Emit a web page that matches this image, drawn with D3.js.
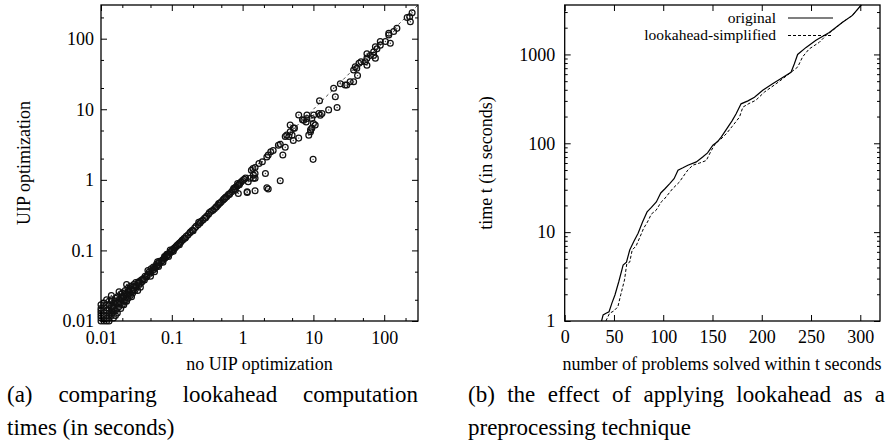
<!DOCTYPE html>
<html>
<head>
<meta charset="utf-8">
<script src="https://cdn.jsdelivr.net/npm/d3@7"></script>
<style>
  body { margin: 0; background: #fff; }
  svg, svg text { font-family: "Liberation Serif", "Times New Roman", Times, serif !important; }
  svg { display: block; }
</style>
</head>
<body>
<svg id="fig" width="886" height="441"></svg>
<script>
// ---------- data (a): lookahead time, no UIP opt (x) vs UIP opt (y), seconds ----------
const uipRuns = [
  // dense bottom-left part
  [0.010,0.010],[0.010,0.011],[0.011,0.010],[0.010,0.012],[0.011,0.011],[0.012,0.011],[0.010,0.013],[0.011,0.013],
  [0.012,0.012],[0.013,0.011],[0.010,0.015],[0.012,0.014],[0.013,0.013],[0.014,0.012],[0.011,0.016],[0.013,0.015],
  [0.014,0.014],[0.015,0.013],[0.012,0.017],[0.014,0.016],[0.015,0.015],[0.016,0.014],[0.013,0.019],[0.015,0.018],
  [0.016,0.017],[0.017,0.015],[0.014,0.020],[0.016,0.019],[0.017,0.018],[0.018,0.016],[0.016,0.021],[0.018,0.020],
  [0.019,0.018],[0.020,0.017],[0.017,0.022],[0.019,0.021],[0.020,0.020],[0.021,0.019],[0.019,0.024],[0.021,0.022],
  [0.022,0.021],[0.023,0.019],[0.020,0.025],[0.022,0.024],[0.023,0.023],[0.024,0.021],[0.022,0.027],[0.024,0.026],
  [0.025,0.024],[0.026,0.023],[0.024,0.029],[0.026,0.028],[0.027,0.026],[0.028,0.025],[0.026,0.031],[0.028,0.030],
  [0.029,0.028],[0.030,0.027],[0.029,0.033],[0.031,0.031],[0.032,0.030],[0.031,0.035],[0.033,0.034],[0.034,0.032],
  [0.035,0.036],[0.036,0.034],[0.037,0.038],[0.038,0.036],[0.040,0.040],[0.041,0.038],[0.042,0.043],[0.044,0.042],
  [0.011,0.018],[0.012,0.020],[0.013,0.010],[0.015,0.011],[0.017,0.013],[0.019,0.015],[0.021,0.017],[0.010,0.017],
  [0.014,0.023],[0.018,0.026],[0.023,0.033],[0.027,0.022],[0.033,0.027],[0.036,0.030],[0.012,0.010],[0.016,0.012],
  [0.010,0.014],[0.011,0.012],[0.013,0.017],[0.015,0.016],[0.018,0.018],[0.020,0.022],[0.022,0.019],[0.025,0.027],
  [0.028,0.028],[0.030,0.031],[0.034,0.036],[0.039,0.039],
  // 0.045 .. 0.12
  [0.045,0.044],[0.047,0.046],[0.048,0.050],[0.050,0.048],[0.052,0.051],[0.051,0.055],[0.054,0.053],[0.056,0.054],
  [0.055,0.058],[0.058,0.057],[0.060,0.059],[0.062,0.060],[0.061,0.064],[0.064,0.063],[0.066,0.064],[0.068,0.067],
  [0.067,0.070],[0.070,0.069],[0.072,0.070],[0.074,0.073],[0.076,0.075],[0.078,0.077],[0.080,0.078],[0.079,0.082],
  [0.082,0.081],[0.084,0.083],[0.086,0.084],[0.085,0.088],[0.088,0.087],[0.090,0.089],[0.092,0.090],[0.094,0.093],
  [0.096,0.095],[0.098,0.097],[0.100,0.098],[0.102,0.101],[0.104,0.104],[0.106,0.104],[0.108,0.107],[0.110,0.109],
  [0.112,0.110],[0.115,0.114],[0.118,0.117],[0.120,0.118],[0.050,0.043],[0.057,0.050],[0.065,0.059],[0.075,0.068],
  [0.090,0.082],[0.105,0.097],[0.046,0.052],[0.063,0.069],[0.095,0.101],
  // 0.12 .. 0.35
  [0.125,0.124],[0.130,0.128],[0.135,0.133],[0.140,0.139],[0.145,0.143],[0.150,0.149],[0.160,0.158],[0.170,0.167],
  [0.180,0.178],[0.185,0.184],[0.195,0.193],[0.210,0.207],[0.220,0.219],[0.235,0.231],[0.250,0.245],[0.260,0.258],
  [0.275,0.270],[0.290,0.285],[0.310,0.305],[0.330,0.325],[0.128,0.120],[0.155,0.150],[0.200,0.190],[0.240,0.250],
  [0.300,0.290],[0.340,0.345],
  // 0.35 .. 1
  [0.36,0.36],[0.38,0.37],[0.40,0.39],[0.43,0.42],[0.45,0.44],[0.48,0.47],[0.50,0.49],[0.53,0.52],[0.55,0.54],
  [0.58,0.57],[0.60,0.58],[0.63,0.62],[0.66,0.64],[0.70,0.68],[0.73,0.72],[0.77,0.75],[0.80,0.79],[0.84,0.82],
  [0.88,0.86],[0.92,0.90],[0.95,0.93],[0.56,0.55],[0.46,0.46],[0.42,0.41],[0.65,0.62],[0.75,0.76],[0.85,0.89],
  [0.90,0.85],
  // the ones that dropped below the line
  [0.79,0.71],[0.87,0.64],[1.16,0.66],[1.50,0.70],[2.30,0.74],[2.20,0.77],[3.40,0.97],[1.16,0.68],
  // 1 .. 4
  [1.00,0.98],[1.05,1.02],[1.10,1.06],[1.20,0.94],[1.28,1.05],[1.42,1.05],[1.50,1.05],[1.42,1.17],[1.50,1.23],
  [1.33,1.37],[1.40,1.45],[1.50,1.50],[1.70,1.70],[1.90,1.80],[2.10,1.23],[2.20,2.10],[2.30,2.25],[2.50,2.50],
  [2.70,2.60],[3.20,3.10],[3.40,3.20],[3.70,2.25],[4.00,2.90],
  // 4 .. 10
  [4.00,4.10],[4.20,4.30],[4.50,4.10],[4.70,4.80],[5.00,4.30],[5.20,5.40],[5.40,5.40],[5.20,3.60],[6.20,3.90],
  [6.20,8.30],[7.00,7.10],[7.30,7.00],[7.90,6.60],[8.10,7.40],[8.10,8.30],[8.60,4.30],[9.10,4.80],[9.10,5.10],
  [9.50,7.40],[9.50,5.40],[10.0,6.30],[10.6,6.00],[9.90,1.95],[4.70,6.00],
  // 10 .. 300
  [10.1,8.3],[11.9,8.7],[12.5,8.2],[13.2,8.7],[12.2,13.2],[16.4,9.8],[21.6,10.6],[20.4,15],[19.3,19.8],[24,23],
  [28,22],[33,24.5],[37,24.5],[29.6,22],[37,36],[39,40],[41,38],[42,30],[44,45],[47,47],[54,47],[57,53],[57,42],
  [57,61],[64,58],[71,65],[71,58],[75,53],[75,77],[79,72],[88,81],[88,91],[104,91],[116,113],[116,119],[122,86],
  [136,126],[151,140],[211,200],[229,204],[234,174],[248,233]
];
const diagonal = [0.01, 300];
const logMajor = [0.01, 0.1, 1, 10, 100];
const logMinor = [0.02, 0.05, 0.2, 0.5, 2, 5, 20, 50, 200];

// ---------- data (b): problems solved within t seconds ----------
const originalSolved = [37.4, 39, 42, 45, 48, 51, 55, 59.3, 62.7, 66, 70, 74.5, 79, 83.6, 88, 93, 97.5, 102, 106.6,
  111, 115, 120, 125, 133.6, 140, 145, 150.4, 155, 159, 165.6, 170, 174, 179, 186, 192.6, 201, 211, 220, 229.7,
  233, 236.4, 245, 255, 268.5, 282, 292, 301];
const originalTime = [1, 1.17, 1.22, 1.27, 1.6, 1.96, 2.8, 4.26, 4.6, 6.3, 7.8, 9.7, 13, 16.9, 19, 21.9, 27.6, 31,
  35.2, 40, 49.8, 53, 56.7, 61.7, 70, 78, 95, 104, 118, 152, 180, 215, 278, 300, 330, 395, 467, 540, 630,
  780, 1000, 1200, 1440, 1770, 2300, 2750, 3600];
const simplifiedSolved = [41.8, 45.5, 50, 54, 57, 60.7, 63, 66, 68.5, 72.5, 78, 80, 84, 88, 92.7, 98, 101, 109.6,
  116.4, 120, 125, 130, 137, 143.7, 148.8, 153.8, 158, 164, 170, 177.4, 180.8, 187, 194, 202.7, 214.5, 222, 229.7,
  236.4, 241.5, 248, 258.4, 266.8, 270, 282, 292, 301];
const simplifiedTime = [1, 1.22, 1.3, 1.45, 2.0, 2.9, 4.4, 4.6, 6.3, 7.0, 9.7, 11, 13, 16, 17.6, 21.9, 23.5, 30.9,
  36.6, 41.9, 50, 56.7, 60, 64, 83, 103, 110, 128, 155, 197, 255, 280, 305, 377, 467, 540, 630, 720, 940, 1150,
  1370, 1700, 1790, 2300, 2750, 3600];
const solvedTicks = [0, 50, 100, 150, 200, 250, 300];
const timeMajor = [1, 10, 100, 1000];
const timeMinor = [2, 3, 4, 5, 6, 7, 8, 9, 20, 30, 40, 50, 60, 70, 80, 90,
  200, 300, 400, 500, 600, 700, 800, 900, 2000, 3000];
const legendLabels = ["original", "lookahead-simplified"];

const captionA = [["(a)", "comparing", "lookahead", "computation"], ["times (in seconds)"]];
const captionB = [["(b)", "the", "effect", "of", "applying", "lookahead", "as", "a"], ["preprocessing technique"]];

const svg = d3.select("#fig");
const FONT = 18;

// draws frame + inward ticks on all four sides
function boxAxes(x, y, xt, xmin, yt, ymin, xfmt, yfmt, pad) {
  const [x0, x1] = x.range();
  const [y0, y1] = y.range(); // y0 bottom, y1 top
  const g = svg.append("g");

  const sides = [
    [d3.axisBottom, x, y0, true, xt, xmin, xfmt],
    [d3.axisTop, x, y1, true, xt, xmin, null],
    [d3.axisLeft, y, x0, false, yt, ymin, yfmt],
    [d3.axisRight, y, x1, false, yt, ymin, null]
  ];
  sides.forEach(([ax, sc, pos, horiz, major, minor, fmt]) => {
    const tr = horiz ? `translate(0,${pos})` : `translate(${pos},0)`;
    const a = g.append("g").attr("transform", tr)
      .call(ax(sc).tickValues(major).tickSize(-6).tickSizeOuter(0)
        .tickPadding(horiz ? pad[0] : pad[1])
        .tickFormat(fmt ? fmt : () => ""));
    a.attr("font-family", null).attr("font-size", null);
    a.select(".domain").remove();
    a.selectAll("text").attr("font-size", FONT).attr("fill", "#000");
    a.selectAll("line").attr("stroke", "#000").attr("stroke-width", 1);
    if (minor.length) {
      const m = g.append("g").attr("transform", tr)
        .call(ax(sc).tickValues(minor).tickSize(-3).tickSizeOuter(0).tickFormat(() => ""));
      m.select(".domain").remove();
      m.selectAll("line").attr("stroke", "#000").attr("stroke-width", 1);
    }
  });

  g.append("rect")
    .attr("x", x0).attr("y", y1)
    .attr("width", x1 - x0).attr("height", y0 - y1)
    .attr("fill", "none").attr("stroke", "#000").attr("stroke-width", 1.3);
}

// ---------- panel (a) ----------
const xa = d3.scaleLog().domain([0.01, 300]).range([101, 418]);
const ya = d3.scaleLog().domain([0.01, 300]).range([321, 5]);
const logFmt = d => String(d);

svg.append("line")
  .attr("x1", xa(diagonal[0])).attr("y1", ya(diagonal[0]))
  .attr("x2", xa(diagonal[1])).attr("y2", ya(diagonal[1]))
  .attr("stroke", "#333").attr("stroke-width", 0.9).attr("stroke-dasharray", "3,3");

const pts = svg.append("g").selectAll("g")
  .data(uipRuns)
  .join("g")
  .attr("transform", d => `translate(${xa(d[0])},${ya(d[1])})`);
pts.append("circle").attr("r", 2.9).attr("fill", "none").attr("stroke", "#111").attr("stroke-width", 1.25);
pts.append("circle").attr("r", 0.7).attr("fill", "#444");

boxAxes(xa, ya, logMajor, logMinor, logMajor, logMinor, logFmt, logFmt, [10, 7]);

svg.append("text")
  .attr("x", 259.5).attr("y", 370)
  .attr("text-anchor", "middle").attr("font-size", FONT)
  .text("no UIP optimization");
svg.append("text")
  .attr("transform", "translate(29.5,163) rotate(-90)")
  .attr("text-anchor", "middle").attr("font-size", FONT)
  .text("UIP optimization");

// ---------- panel (b) ----------
const xb = d3.scaleLinear().domain([0, 320]).range([564.7, 880]);
const yb = d3.scaleLog().domain([1, 3600]).range([321, 5]);

const line = (ns, ts) => d3.line()
  .x((d, i) => xb(ns[i]))
  .y((d, i) => yb(ts[i]))(ns);

svg.append("path")
  .attr("d", line(simplifiedSolved, simplifiedTime))
  .attr("fill", "none").attr("stroke", "#000").attr("stroke-width", 1)
  .attr("stroke-dasharray", "3,2");
svg.append("path")
  .attr("d", line(originalSolved, originalTime))
  .attr("fill", "none").attr("stroke", "#000").attr("stroke-width", 1.2);

boxAxes(xb, yb, solvedTicks, [], timeMajor, timeMinor, d => String(d), d => String(d), [9, 9.5]);

// legend (small font so the two rows don't collide)
const leg = svg.append("g");
legendLabels.forEach((lab, i) => {
  const yy = 18 + i * 17.5;
  leg.append("text")
    .attr("x", 776).attr("y", yy + 4.5)
    .attr("text-anchor", "end").attr("font-size", 15.5)
    .text(lab);
  leg.append("line")
    .attr("x1", 788).attr("x2", 833).attr("y1", yy).attr("y2", yy)
    .attr("stroke", "#000").attr("stroke-width", i ? 1 : 1.2)
    .attr("stroke-dasharray", i ? "3,2" : null);
});

svg.append("text")
  .attr("x", 722).attr("y", 370)
  .attr("text-anchor", "middle").attr("font-size", FONT)
  .text("number of problems solved within t seconds");
svg.append("text")
  .attr("transform", "translate(492,163) rotate(-90)")
  .attr("text-anchor", "middle").attr("font-size", FONT)
  .text("time t (in seconds)");

// ---------- captions (first line justified like the paper) ----------
function caption(lines, left, right) {
  const CAP = 23;
  // line 1: spread words out to fill the column
  const words = lines[0].map(w => svg.append("text").attr("font-size", CAP).attr("y", 402).text(w));
  const widths = words.map(t => t.node().getComputedTextLength());
  const gap = (right - left - d3.sum(widths)) / (words.length - 1);
  let cx = left;
  words.forEach((t, i) => { t.attr("x", cx); cx += widths[i] + gap; });
  svg.append("text").attr("font-size", CAP).attr("x", left).attr("y", 435).text(lines[1][0]);
}
caption(captionA, 7, 418);
caption(captionB, 468, 885);
</script>
</body>
</html>
